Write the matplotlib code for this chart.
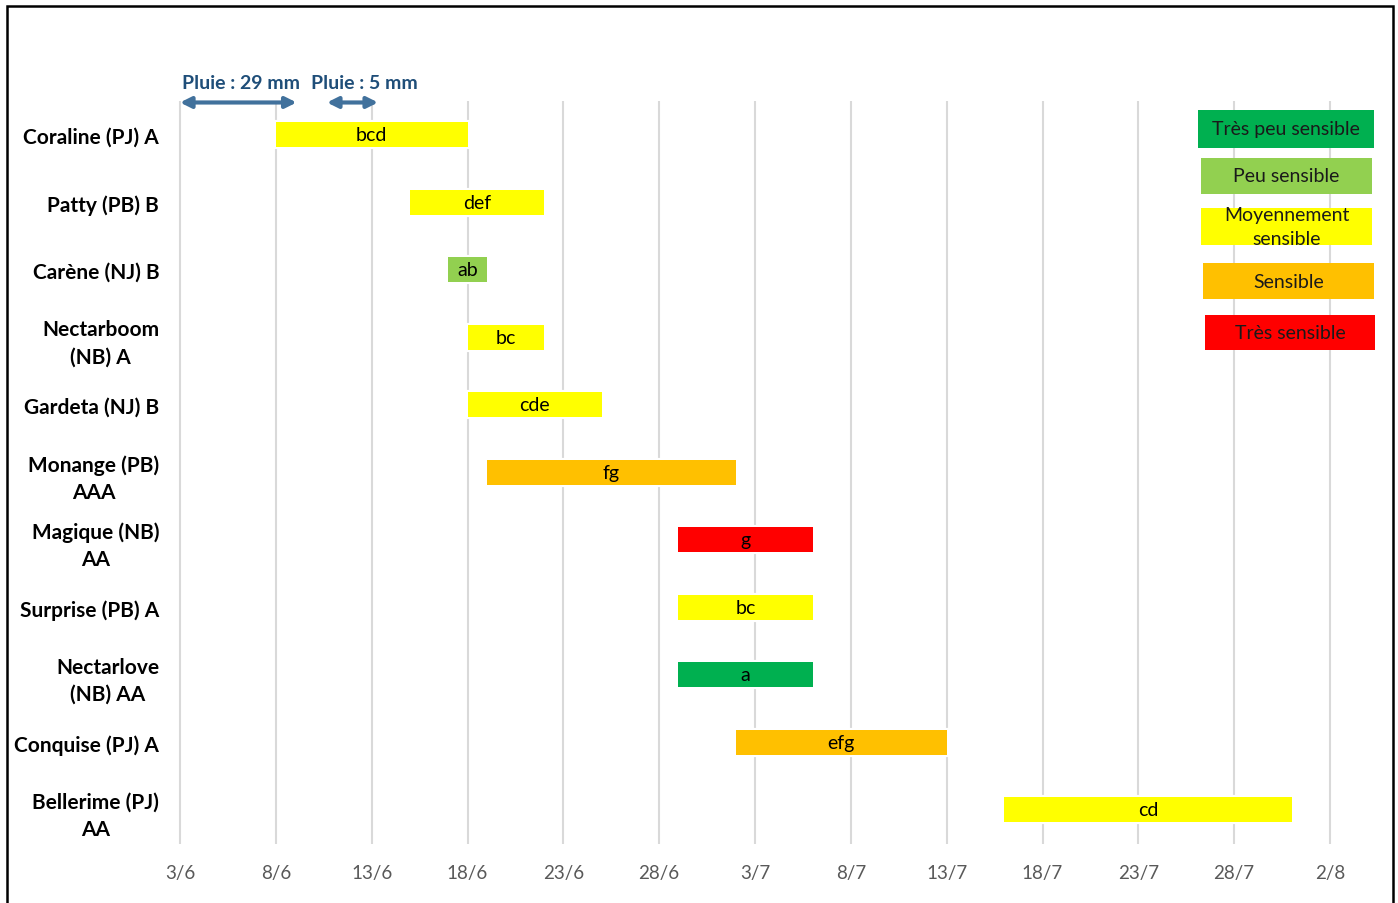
import matplotlib
matplotlib.use("Agg")
import matplotlib.pyplot as plt
import matplotlib.dates as mdates
from matplotlib.patches import Rectangle
import pandas as pd

plt.rcParams['font.family'] = ['Lato', 'DejaVu Sans']

varieties = ["Coraline (PJ) A", "Patty (PB) B", "Carène (NJ) B", "Nectarboom\n(NB) A",
             "Gardeta (NJ) B", "Monange (PB)\nAAA", "Magique (NB)\nAA", "Surprise (PB) A",
             "Nectarlove\n(NB) AA", "Conquise (PJ) A", "Bellerime (PJ)\nAA"]
starts = ["2021-06-08", "2021-06-15", "2021-06-17", "2021-06-18", "2021-06-18", "2021-06-19",
          "2021-06-29", "2021-06-29", "2021-06-29", "2021-07-02", "2021-07-16"]
ends = ["2021-06-18", "2021-06-22", "2021-06-19", "2021-06-22", "2021-06-25", "2021-07-02",
        "2021-07-06", "2021-07-06", "2021-07-06", "2021-07-13", "2021-07-31"]
groups = ["bcd", "def", "ab", "bc", "cde", "fg", "g", "bc", "a", "efg", "cd"]
classes = ["Moyennement sensible", "Moyennement sensible", "Peu sensible", "Moyennement sensible",
           "Moyennement sensible", "Sensible", "Très sensible", "Moyennement sensible",
           "Très peu sensible", "Sensible", "Moyennement sensible"]

legend_labels = ["Très peu sensible", "Peu sensible", "Moyennement\nsensible", "Sensible", "Très sensible"]
legend_keys = ["Très peu sensible", "Peu sensible", "Moyennement sensible", "Sensible", "Très sensible"]
colors = {"Très peu sensible": "#00B050", "Peu sensible": "#92D050",
          "Moyennement sensible": "#FFFF00", "Sensible": "#FFC000", "Très sensible": "#FF0000"}

rain_labels = ["Pluie : 29 mm", "Pluie : 5 mm"]
rain_start = ["2021-06-03 00:00", "2021-06-10 16:00"]
rain_end = ["2021-06-09 02:00", "2021-06-13 08:00"]

tick_dates = pd.date_range("2021-06-03", "2021-08-02", freq="5D")
tick_labels = ["3/6", "8/6", "13/6", "18/6", "23/6", "28/6", "3/7", "8/7", "13/7", "18/7", "23/7", "28/7", "2/8"]

W, H = 1398, 904
fig = plt.figure(figsize=(W / 100, H / 100), dpi=100)
ax = fig.add_axes([180 / W, 1 - 844.5 / H, 1150 / W, 742.5 / H])

x0 = mdates.date2num(pd.to_datetime(starts))
x1 = mdates.date2num(pd.to_datetime(ends))
ypos = list(range(len(varieties)))
bar_colors = [colors[c] for c in classes]

# white halo behind bars (cuts the gridlines like the original)
ax.barh(ypos, x1 - x0, left=x0, height=0.37, color="white", edgecolor="white", linewidth=3, zorder=2)
ax.barh(ypos, x1 - x0, left=x0, height=0.37, color=bar_colors, linewidth=0, zorder=3)
for y, a, b, g in zip(ypos, x0, x1, groups):
    ax.text((a + b) / 2, y, g, ha="center", va="center", fontsize=14, color="black", zorder=4)

tx = mdates.date2num(tick_dates)
ax.vlines(tx, -0.5, len(varieties) - 0.5, color="#d9d9d9", lw=1.5, zorder=1, clip_on=False)
ax.set_xlim(tx[0], tx[-1])
ax.set_ylim(len(varieties) - 0.5, -0.5)
ax.set_xticks(tx)
ax.set_xticklabels(tick_labels, fontsize=13.5, color="#595959")
ax.set_yticks(ypos)
ax.set_yticklabels(varieties, fontsize=15, fontweight="bold", color="black",
                   multialignment="center", linespacing=1.45)
ax.tick_params(length=0)
ax.tick_params(axis="x", pad=15)
ax.tick_params(axis="y", pad=15)
for s in ax.spines.values():
    s.set_visible(False)

# rain arrows
rs = mdates.date2num(pd.to_datetime(rain_start))
re_ = mdates.date2num(pd.to_datetime(rain_end))
text_shift = [0.1, -0.85]
for lab, a, b, dx in zip(rain_labels, rs, re_, text_shift):
    ax.annotate("", xy=(b, 0.998), xytext=(a, 0.998), xycoords=("data", "axes fraction"),
                arrowprops=dict(arrowstyle="<|-|>", color="#41719C", lw=3, mutation_scale=16,
                                shrinkA=0, shrinkB=0), annotation_clip=False)
    ax.text(a + dx, 1.014, lab, transform=ax.get_xaxis_transform(), ha="left", va="bottom",
            fontsize=14, fontweight="bold", color="#1F4E79", clip_on=False)

# legend boxes
boxes = [(1198, 1374, 111, 149), (1201, 1372, 159, 195), (1201, 1372, 209, 246),
         (1203, 1374, 264, 300), (1205, 1375, 316, 351)]
for lab, key, (bx0, bx1, by0, by1) in zip(legend_labels, legend_keys, boxes):
    fig.add_artist(Rectangle((bx0 / W, 1 - by1 / H), (bx1 - bx0) / W, (by1 - by0) / H,
                             transform=fig.transFigure, facecolor=colors[key], edgecolor="none", zorder=5))
    fig.text((bx0 + bx1) / 2 / W, 1 - (by0 + by1) / 2 / H, lab, ha="center", va="center",
             fontsize=14, color="#1a1a1a", linespacing=1.45, zorder=6)

# outer frame
fig.add_artist(Rectangle((7 / W, -0.02), (1393 - 7) / W, 1 - 7 / H + 0.02, transform=fig.transFigure,
                         facecolor="none", edgecolor="black", lw=1.8))

fig.savefig("out.png", dpi=100)
